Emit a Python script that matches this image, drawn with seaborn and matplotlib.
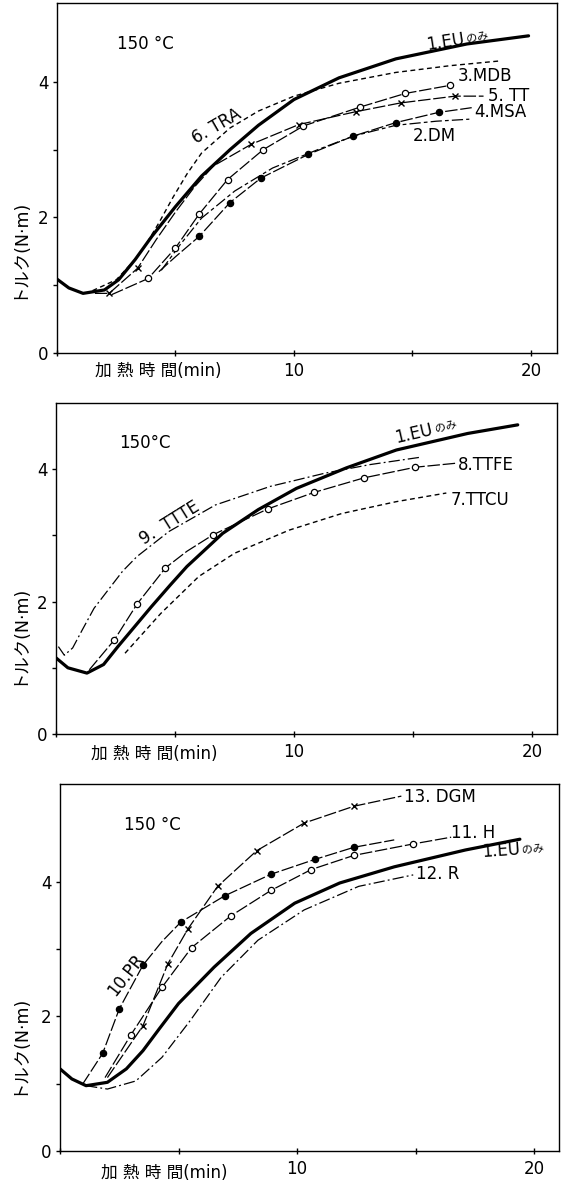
import math
import matplotlib
matplotlib.use("Agg")
import matplotlib.pyplot as plt
import seaborn as sns

# ---------------- data ----------------
# Panel 1
p1_eu_x = [0, 0.5, 1.1, 2.0, 2.6, 3.3, 4.0, 5.0, 6.1, 7.3, 8.5, 10.0, 11.9, 14.3, 17.3, 19.9]
p1_eu_y = [1.09, 0.96, 0.88, 0.93, 1.08, 1.38, 1.72, 2.16, 2.61, 3.0, 3.36, 3.74, 4.06, 4.34, 4.56, 4.68]
p1_tra_x = [1.5, 2.5, 3.3, 3.7, 4.3, 4.9, 5.5, 6.1, 7.3, 8.5, 10.0, 11.9, 14.3, 16.6, 18.7]
p1_tra_y = [0.92, 1.08, 1.38, 1.57, 1.92, 2.3, 2.65, 2.95, 3.32, 3.57, 3.79, 3.98, 4.14, 4.24, 4.31]
p1_mdb_x = [2.3, 3.85, 5.0, 6.0, 7.2, 8.7, 10.4, 12.8, 14.7, 16.6]
p1_mdb_y = [0.86, 1.10, 1.55, 2.05, 2.56, 3.0, 3.35, 3.63, 3.83, 3.95]
p1_mdb_mk = [1, 2, 3, 4, 5, 6, 7, 8, 9]
p1_tt_x = [1.6, 2.2, 3.4, 4.2, 5.0, 5.8, 6.6, 8.2, 10.2, 12.6, 14.5, 16.8, 18.0]
p1_tt_y = [0.88, 0.88, 1.25, 1.68, 2.08, 2.45, 2.76, 3.08, 3.37, 3.56, 3.69, 3.79, 3.79]
p1_tt_mk = [1, 2, 7, 8, 9, 10, 11]
p1_msa_x = [4.3, 5.0, 6.0, 7.3, 8.6, 10.6, 12.5, 14.3, 16.1, 17.5]
p1_msa_y = [1.2, 1.42, 1.72, 2.22, 2.58, 2.93, 3.20, 3.40, 3.55, 3.62]
p1_msa_mk = [2, 3, 4, 5, 6, 7, 8]
p1_dm_x = [4.4, 5.2, 6.1, 7.5, 9.1, 11.0, 12.5, 14.3, 16.0, 17.4]
p1_dm_y = [1.22, 1.6, 1.99, 2.39, 2.73, 3.0, 3.2, 3.36, 3.42, 3.45]

# Panel 2
p2_eu_x = [0, 0.5, 1.3, 2.0, 2.6, 3.3, 4.0, 4.8, 5.5, 7.0, 8.5, 10.1, 12.2, 14.3, 17.3, 19.4]
p2_eu_y = [1.15, 1.0, 0.92, 1.05, 1.32, 1.62, 1.92, 2.25, 2.53, 3.03, 3.39, 3.71, 4.02, 4.29, 4.54, 4.67]
p2_ttcu_x = [2.9, 3.6, 4.4, 5.2, 6.0, 7.5, 9.8, 12.0, 14.3, 16.4]
p2_ttcu_y = [1.22, 1.5, 1.82, 2.1, 2.38, 2.73, 3.08, 3.33, 3.51, 3.64]
p2_ttfe_x = [1.4, 2.45, 3.4, 4.6, 5.5, 6.6, 8.9, 10.85, 12.95, 15.1, 16.8]
p2_ttfe_y = [0.97, 1.42, 1.96, 2.51, 2.76, 3.01, 3.40, 3.65, 3.87, 4.03, 4.09]
p2_ttfe_mk = [1, 2, 3, 5, 6, 7, 8, 9]
p2_ttte_x = [0.1, 0.35, 0.7, 1.1, 1.6, 2.2, 2.8, 3.4, 4.75, 6.7, 9.0, 11.3, 13.2, 15.3]
p2_ttte_y = [1.32, 1.19, 1.3, 1.57, 1.9, 2.18, 2.46, 2.68, 3.06, 3.46, 3.74, 3.94, 4.07, 4.18]

# Panel 3
p3_eu_x = [0, 0.5, 1.1, 2.0, 2.8, 3.5, 4.2, 5.0, 6.5, 8.05, 9.9, 11.8, 14.1, 17.1, 19.4]
p3_eu_y = [1.22, 1.07, 0.97, 1.02, 1.22, 1.49, 1.82, 2.19, 2.73, 3.23, 3.68, 3.98, 4.22, 4.47, 4.63]
p3_r_x = [1.1, 2.0, 3.2, 4.3, 5.5, 6.8, 8.35, 10.3, 12.6, 14.9]
p3_r_y = [0.97, 0.92, 1.04, 1.39, 1.94, 2.58, 3.13, 3.58, 3.93, 4.10]
p3_h_x = [1.9, 3.0, 4.3, 5.55, 7.2, 8.9, 10.6, 12.4, 14.9, 16.5]
p3_h_y = [1.09, 1.73, 2.43, 3.02, 3.49, 3.87, 4.18, 4.39, 4.56, 4.66]
p3_h_mk = [1, 2, 3, 4, 5, 6, 7, 8]
p3_pr_x = [0.95, 1.8, 2.5, 3.5, 4.3, 5.1, 6.95, 8.9, 10.75, 12.4, 14.1]
p3_pr_y = [0.99, 1.45, 2.11, 2.76, 3.11, 3.40, 3.79, 4.11, 4.33, 4.51, 4.62]
p3_pr_mk = [1, 2, 3, 5, 6, 7, 8, 9]
p3_dgm_x = [2.0, 3.5, 4.55, 5.4, 6.65, 8.3, 10.3, 12.4, 14.4]
p3_dgm_y = [1.09, 1.86, 2.78, 3.30, 3.93, 4.46, 4.87, 5.12, 5.27]
p3_dgm_mk = [1, 2, 3, 4, 5, 6, 7]

x_ticks = [0, 5, 10, 15, 20]
x_ticklabels = ["", "", "10", "", "20"]
y_ticks = [0, 1, 2, 3, 4]
y_ticklabels = ["0", "", "2", "", "4"]
temp_label = "150 °C"
x_label = "加 熱 時 間(min)"
y_label = "トルク(N·m)"

# ---------------- style ----------------
sns.set_style("ticks")
plt.rcParams["font.family"] = ["DejaVu Sans", "Noto Sans CJK JP"]
K = "black"
for key in ["text.color", "axes.labelcolor", "xtick.color", "ytick.color", "axes.edgecolor"]:
    plt.rcParams[key] = K
plt.rcParams["axes.linewidth"] = 1.0

fig = plt.figure(figsize=(5.64, 11.82), dpi=100)
fig.patch.set_facecolor("white")

rects = [
    [57 / 564, 1 - 353 / 1182, 500 / 564, 349.7 / 1182],
    [56 / 564, 1 - 734 / 1182, 501 / 564, 331 / 1182],
    [60 / 564, 1 - 1151 / 1182, 499 / 564, 367 / 1182],
]
ylims = [5.16, 5.0, 5.45]
xlims = [21.1, 21.05, 21.05]
xlab_pos = [(0.202, -0.052), (0.196, -0.06), (0.208, -0.06)]
ylab_pos = [(-0.078, 0.30), (-0.076, 0.30), (-0.084, 0.29)]

SOLID_THICK = dict(color=K, lw=2.3, linestyle="-")
SHORT_DASH = dict(color=K, lw=1.0, linestyle=(0, (3.5, 2.5)))
LONG_DASH = dict(color=K, lw=0.9, linestyle=(0, (10, 2.2)))
DASH_DOT = dict(color=K, lw=0.9, linestyle=(0, (9, 2.5, 1.5, 2.5)))
DASH_SHORT = dict(color=K, lw=0.9, linestyle=(0, (9, 2.5, 3, 2.5)))
OPEN = dict(marker="o", mfc="white", mec=K, mew=0.9, ms=4.5)
FILLED = dict(marker="o", mfc=K, mec=K, mew=0.9, ms=4.5)
CROSS = dict(marker="x", mfc=K, mec=K, mew=1.0, ms=4.5)


def curve(ax, xs, ys, style, mk=None, mstyle=None):
    kws = dict(style)
    if mk is not None:
        kws.update(mstyle)
        kws["markevery"] = mk
    sns.lineplot(x=xs, y=ys, ax=ax, estimator=None, sort=False, **kws)


axes = []
for i in range(3):
    ax = fig.add_axes(rects[i])
    ax.set_xlim(0, xlims[i])
    ax.set_ylim(0, ylims[i])
    ax.set_xticks(x_ticks)
    ax.set_xticklabels(x_ticklabels)
    ax.set_yticks(y_ticks)
    ax.set_yticklabels(y_ticklabels)
    ax.tick_params(axis="x", direction="inout", length=5, width=1, pad=4,
                   labelsize=12, colors=K)
    ax.tick_params(axis="y", direction="out", length=3, width=1, pad=3,
                   labelsize=12, colors=K)
    for s in ax.spines.values():
        s.set_color(K)
        s.set_linewidth(1.0)
    ax.text(xlab_pos[i][0], xlab_pos[i][1], x_label, transform=ax.transAxes,
            ha="center", va="center", fontsize=12, color=K)
    ax.text(ylab_pos[i][0], ylab_pos[i][1], y_label, transform=ax.transAxes,
            ha="center", va="center", fontsize=12.5, rotation=90, color=K)
    axes.append(ax)

ax1, ax2, ax3 = axes


def eu_label(ax, x, y, rot):
    ax.annotate("1.EU", xy=(x, y), xycoords="data", ha="left", va="baseline",
                fontsize=12, rotation=rot, rotation_mode="anchor", color=K)
    w = 29
    ax.annotate("のみ", xy=(x, y), xycoords="data",
                xytext=(w * math.cos(math.radians(rot)), w * math.sin(math.radians(rot)) + 1),
                textcoords="offset points", ha="left", va="baseline",
                fontsize=8, rotation=rot, rotation_mode="anchor", color=K)


# ---- Panel 1 ----
curve(ax1, p1_tra_x, p1_tra_y, SHORT_DASH)
curve(ax1, p1_dm_x, p1_dm_y, DASH_SHORT)
curve(ax1, p1_msa_x, p1_msa_y, LONG_DASH, p1_msa_mk, FILLED)
curve(ax1, p1_tt_x, p1_tt_y, LONG_DASH, p1_tt_mk, CROSS)
curve(ax1, p1_mdb_x, p1_mdb_y, LONG_DASH, p1_mdb_mk, OPEN)
curve(ax1, p1_eu_x, p1_eu_y, SOLID_THICK)
ax1.text(3.75, 4.56, temp_label, ha="center", va="center", fontsize=12)
eu_label(ax1, 15.6, 4.47, 9)
ax1.text(16.9, 4.09, "3.MDB", ha="left", va="center", fontsize=12)
ax1.text(18.2, 3.79, "5. TT", ha="left", va="center", fontsize=12)
ax1.text(17.6, 3.55, "4.MSA", ha="left", va="center", fontsize=12)
ax1.text(15.0, 3.2, "2.DM", ha="left", va="center", fontsize=12)
ax1.text(6.75, 3.34, "6. TRA", ha="center", va="center", fontsize=12,
         rotation=30, rotation_mode="anchor")

# ---- Panel 2 ----
curve(ax2, p2_ttcu_x, p2_ttcu_y, SHORT_DASH)
curve(ax2, p2_ttte_x, p2_ttte_y, DASH_DOT)
curve(ax2, p2_ttfe_x, p2_ttfe_y, LONG_DASH, p2_ttfe_mk, OPEN)
curve(ax2, p2_eu_x, p2_eu_y, SOLID_THICK)
ax2.text(3.75, 4.39, "150°C", ha="center", va="center", fontsize=12)
eu_label(ax2, 14.3, 4.4, 13)
ax2.text(16.9, 4.07, "8.TTFE", ha="left", va="center", fontsize=12)
ax2.text(16.6, 3.54, "7.TTCU", ha="left", va="center", fontsize=12)
ax2.text(4.78, 3.19, "9.  TTTE", ha="center", va="center", fontsize=12,
         rotation=32, rotation_mode="anchor")

# ---- Panel 3 ----
curve(ax3, p3_r_x, p3_r_y, DASH_DOT)
curve(ax3, p3_dgm_x, p3_dgm_y, LONG_DASH, p3_dgm_mk, CROSS)
curve(ax3, p3_h_x, p3_h_y, LONG_DASH, p3_h_mk, OPEN)
curve(ax3, p3_pr_x, p3_pr_y, LONG_DASH, p3_pr_mk, FILLED)
curve(ax3, p3_eu_x, p3_eu_y, SOLID_THICK)
ax3.text(3.9, 4.84, temp_label, ha="center", va="center", fontsize=12)
ax3.text(14.5, 5.26, "13. DGM", ha="left", va="center", fontsize=12)
ax3.text(16.5, 4.72, "11. H", ha="left", va="center", fontsize=12)
eu_label(ax3, 17.8, 4.36, 4)
ax3.text(15.0, 4.12, "12. R", ha="left", va="center", fontsize=12)
ax3.text(2.8, 2.62, "10.PR", ha="center", va="center", fontsize=12,
         rotation=52, rotation_mode="anchor")

fig.savefig("out.png", dpi=100, facecolor="white")
